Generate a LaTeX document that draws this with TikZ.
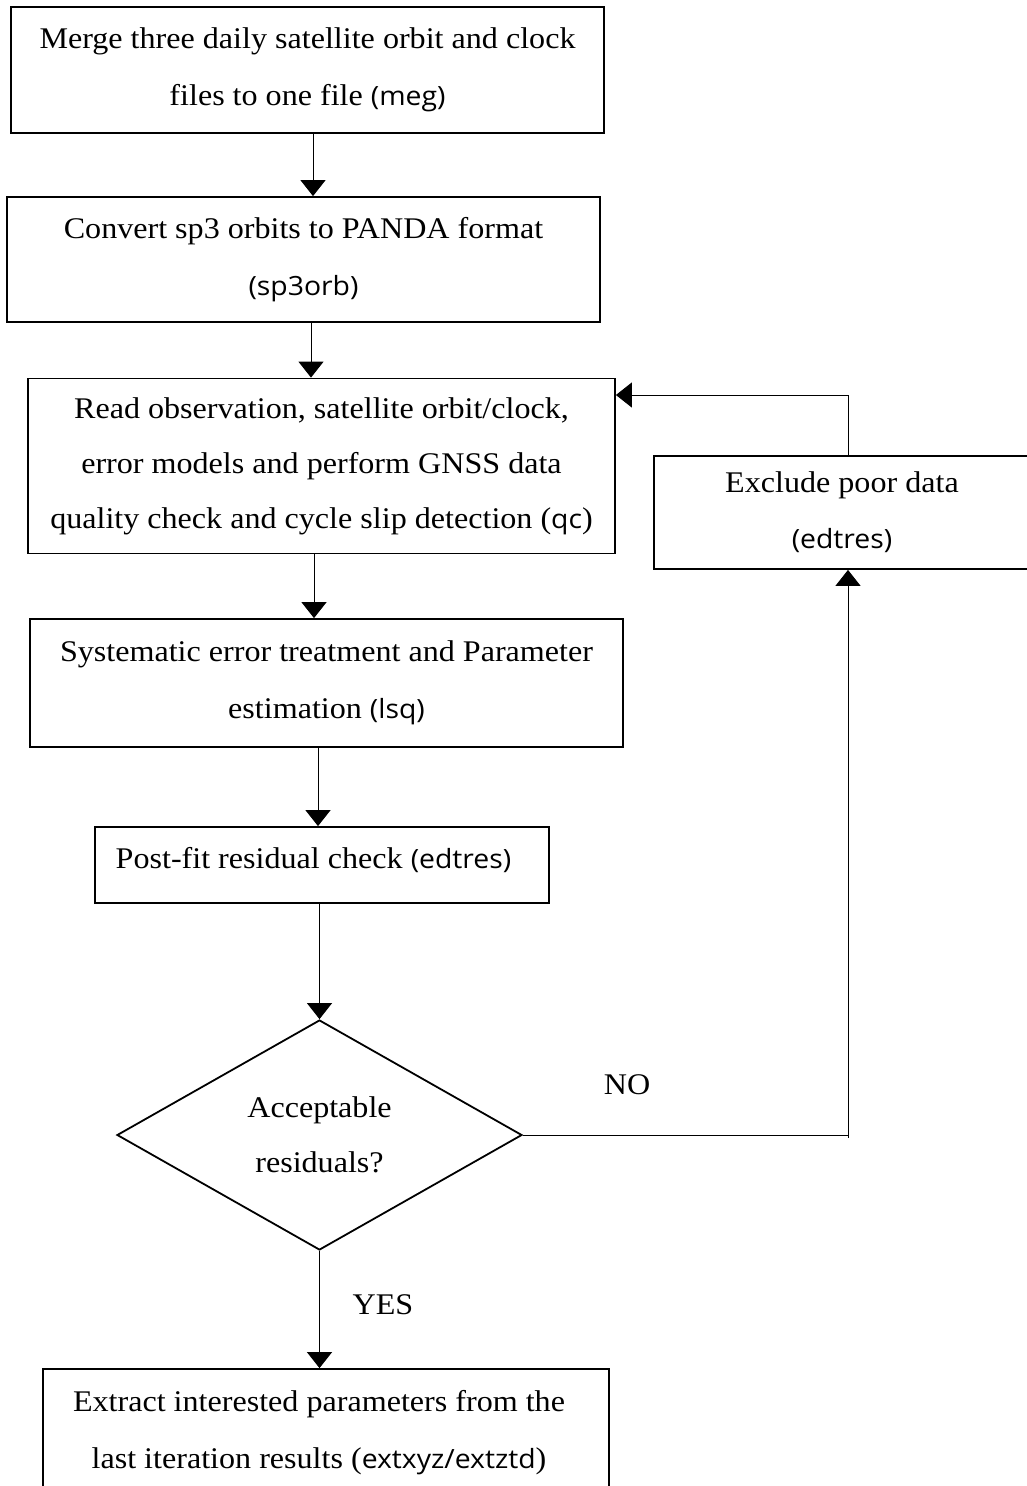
\documentclass[tikz,border=0pt]{standalone}
\usepackage{fontspec}
\setmainfont[FakeStretch=1.07]{Liberation Serif}
\newfontfamily\codefont[FakeStretch=1.07]{Open Sans}
\usetikzlibrary{shapes.geometric,arrows.meta}
\newcommand{\cd}[1]{{\codefont\fontsize{26.5}{56}\selectfont #1}}
\begin{document}
\begin{tikzpicture}[x=1pt,y=1pt,
  box/.style={draw, line width=1.8pt, rectangle, inner sep=0pt, align=center,
    font=\fontsize{30}{57}\selectfont},
  dec/.style={draw, line width=1.8pt, diamond, inner sep=0pt, align=center,
    font=\fontsize{30}{55}\selectfont, minimum width=405pt, minimum height=230pt},
  arr/.style={line width=1pt, -{Triangle[length=16pt,width=25pt]}},
  ln/.style={line width=1pt},
  lbl/.style={font=\fontsize{30}{32}\selectfont, inner sep=0pt}]
\useasboundingbox (0,0) rectangle (1027,-1486);
\clip (0,0) rectangle (1027,-1486);
\fill[white] (0,0) rectangle (1027,-1486);

\node[box, minimum width=593pt, minimum height=126pt] (b1) at (307.5,-70)
  {Merge three daily satellite orbit and clock\\files to one file \cd{(meg)}};
\node[box, minimum width=593pt, minimum height=125pt] (b2) at (303.5,-259.5)
  {Convert sp3 orbits to PANDA format\\\cd{(sp3orb)}};
\node[box, minimum width=587pt, minimum height=175pt, font=\fontsize{30}{55}\selectfont] (b3) at (321.5,-466)
  {Read observation, satellite orbit/clock,\\error models and perform GNSS data\\quality check and cycle slip detection (\cd{qc})};
\node[box, minimum width=593pt, minimum height=128pt] (b4) at (326.5,-683)
  {Systematic error treatment and Parameter\\estimation \cd{(lsq)}};
\node[box, minimum width=454pt, minimum height=76pt, text height=22pt, text depth=16pt] (b5) at (322,-865)
  {Post-fit residual check \cd{(edtres)}\hspace*{17pt}};
\node[dec] (d) at (319.5,-1135) {Acceptable\\residuals?};
\node[box, minimum width=566pt, minimum height=127pt] (b7) at (326,-1432.5)
  {Extract interested parameters from the\hspace*{14pt}\\last iteration results (\cd{extxyz/extztd})\hspace*{14pt}};
\node[box, minimum width=376pt, minimum height=113pt, font=\fontsize{30}{56}\selectfont] (ex) at (842,-512.5)
  {Exclude poor data\\\cd{(edtres)}};

\node[lbl] (no) at (627,-1085) {NO};
\node[lbl] (yes) at (383,-1305) {YES};

\coordinate (c1) at (313,0);
\coordinate (c2) at (311,0);
\coordinate (c3) at (314,0);
\coordinate (c4) at (318,0);
\coordinate (cr) at (848,0);
\coordinate (top) at (848,-395);
\coordinate (turn) at (848,-1135);

\draw[arr] (b1.south -| c1) -- (b2.north -| c1);
\draw[arr] (b2.south -| c2) -- (b3.north -| c2);
\draw[arr] (b3.south -| c3) -- (b4.north -| c3);
\draw[arr] (b4.south -| c4) -- (b5.north -| c4);
\draw[arr] (b5.south -| d.north) -- (d.north);
\draw[arr] (d.south) -- (b7.north -| d.south);
\draw[ln] (d.east) -- (turn);
\draw[arr] ([yshift=-3pt]turn) -- (ex.south -| cr);
\draw[ln] (ex.north -| cr) -- (top);
\draw[arr] (top) -- (b3.east |- top);
\end{tikzpicture}
\end{document}
